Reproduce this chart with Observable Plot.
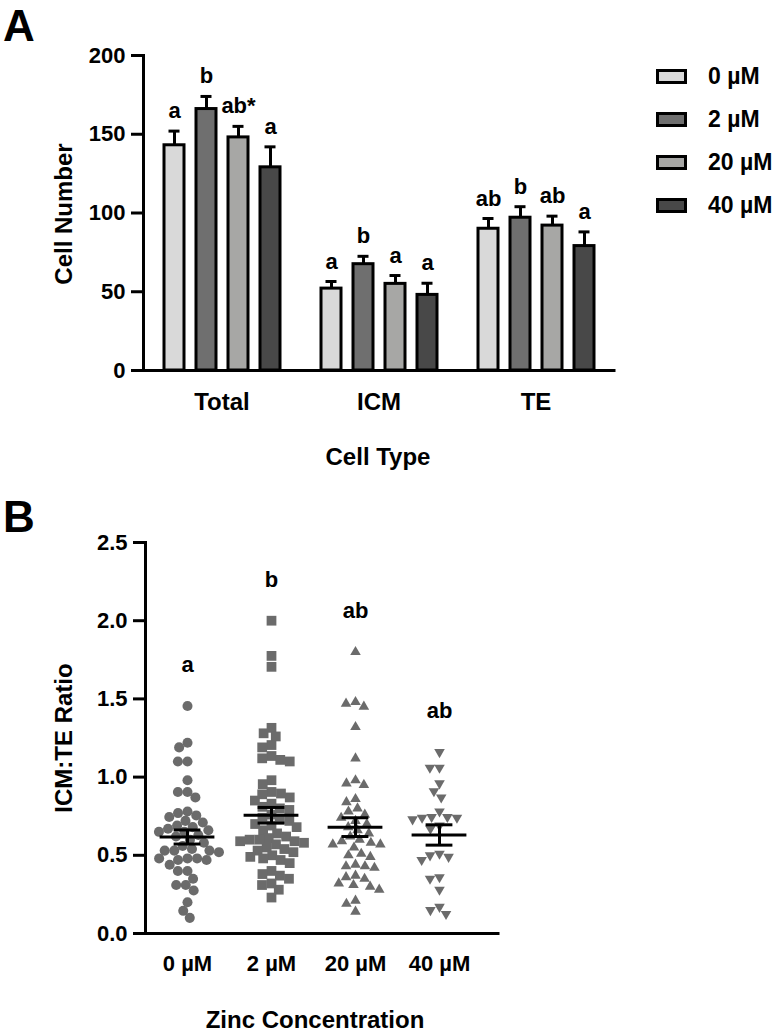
<!DOCTYPE html>
<html>
<head>
<meta charset="utf-8">
<script src="https://cdn.jsdelivr.net/npm/d3@7"></script>
<script src="https://cdn.jsdelivr.net/npm/@observablehq/plot@0.6"></script>
<style>
  body { margin: 0; background: #fff; }
  #wrap { position: relative; width: 780px; height: 1032px; overflow: hidden;
          font-family: "Liberation Sans", Arial, sans-serif; font-weight: bold; color: #000; }
  #plotA { position: absolute; left: 0; top: 0; }
  #plotB { position: absolute; left: 0; top: 470px; }
  .panel { position: absolute; font-size: 44px; line-height: 1; }
  .title { position: absolute; font-size: 24px; line-height: 1; white-space: nowrap; }
  .ytitle { transform: translate(-50%, -50%) rotate(-90deg); }
  .xtitle { transform: translateX(-50%); }
  #legend { position: absolute; left: 656px; top: 55.6px; }
  .row { display: flex; align-items: center; height: 42.7px; }
  .sw { width: 31px; height: 15px; box-sizing: border-box; border: 3.5px solid #000; }
  .lab { margin-left: 21px; font-size: 23px; line-height: 1; }
</style>
</head>
<body>
<div id="wrap">
  <div id="plotA"></div>
  <div id="plotB"></div>
  <div class="panel" style="left:3px;top:4px;">A</div>
  <div class="panel" style="left:3px;top:495px;">B</div>
  <div class="title ytitle" style="left:63.7px;top:214px;">Cell Number</div>
  <div class="title xtitle" style="left:378px;top:444.7px;">Cell Type</div>
  <div class="title ytitle" style="left:63.7px;top:738px;">ICM:TE Ratio</div>
  <div class="title xtitle" style="left:315px;top:1007.7px;">Zinc Concentration</div>
  <div id="legend"></div>
</div>
<script>
// ---------- Panel A data ----------
const cellTypes = ["Total", "ICM", "TE"];
const concentrations = ["0 µM", "2 µM", "20 µM", "40 µM"];
const barColors = ["#d9d9d9", "#6f6f6f", "#a7a7a5", "#484848"];
const totalMean = [143, 166, 148, 129];
const totalSem = [9, 8, 7, 13];
const icmMean = [52, 67.5, 55, 48];
const icmSem = [4.5, 5, 5.3, 7.4];
const teMean = [90, 97, 92, 79];
const teSem = [6.5, 7, 6, 9];
const totalLetters = ["a", "b", "ab*", "a"];
const icmLetters = ["a", "b", "a", "a"];
const teLetters = ["ab", "b", "ab", "a"];
const cellNumberTicks = [0, 50, 100, 150, 200];

// ---------- Panel B data ----------
const ratio0 = [1.455, 1.22, 1.19, 1.10, 1.10, 0.98, 0.905, 0.905, 0.87, 0.78, 0.77, 0.755, 0.745, 0.72, 0.71,
  0.69, 0.68, 0.67, 0.66, 0.65, 0.65, 0.63, 0.62, 0.60, 0.58, 0.56, 0.54, 0.53, 0.53, 0.53, 0.52, 0.48, 0.48,
  0.48, 0.47, 0.47, 0.44, 0.40, 0.40, 0.35, 0.31, 0.31, 0.275, 0.20, 0.145, 0.10];
const ratio2 = [2.00, 1.775, 1.705, 1.315, 1.28, 1.26, 1.205, 1.19, 1.135, 1.12, 1.11, 1.10, 0.98, 0.955, 0.905,
  0.895, 0.89, 0.87, 0.85, 0.83, 0.81, 0.80, 0.79, 0.76, 0.74, 0.73, 0.72, 0.70, 0.69, 0.68, 0.66, 0.64, 0.62,
  0.61, 0.60, 0.60, 0.59, 0.59, 0.58, 0.57, 0.55, 0.54, 0.53, 0.52, 0.50, 0.49, 0.48, 0.47, 0.45, 0.40, 0.38,
  0.37, 0.35, 0.32, 0.31, 0.28, 0.23];
const ratio20 = [1.80, 1.48, 1.47, 1.45, 1.32, 1.12, 0.98, 0.96, 0.95, 0.86, 0.84, 0.80, 0.78, 0.76, 0.74, 0.72,
  0.70, 0.68, 0.66, 0.64, 0.62, 0.60, 0.59, 0.58, 0.57, 0.57, 0.55, 0.51, 0.50, 0.49, 0.44, 0.43, 0.43, 0.42,
  0.37, 0.36, 0.35, 0.32, 0.31, 0.30, 0.28, 0.21, 0.19, 0.14];
const ratio40 = [1.16, 1.06, 1.06, 0.96, 0.91, 0.87, 0.78, 0.745, 0.745, 0.74, 0.74, 0.73, 0.69, 0.67, 0.51, 0.50,
  0.49, 0.47, 0.36, 0.35, 0.28, 0.17, 0.15, 0.125];
const ratioMean = [0.617, 0.756, 0.68, 0.63];
const ratioSem = [0.045, 0.05, 0.06, 0.065];
const ratioLetters = ["a", "b", "ab", "ab"];
const ratioTicks = [0, 0.5, 1, 1.5, 2, 2.5];
const dotColor = "#6b6b6b";

// ---------- tables built from the arrays ----------
const groupsA = [
  [totalMean, totalSem, totalLetters],
  [icmMean, icmSem, icmLetters],
  [teMean, teSem, teLetters]
];
const cellData = cellTypes.flatMap((t, i) => concentrations.map((c, j) => ({
  type: t, conc: c,
  mean: groupsA[i][0][j],
  upper: groupsA[i][0][j] + groupsA[i][1][j],
  letter: groupsA[i][2][j]
})));

const ratioSeries = [ratio0, ratio2, ratio20, ratio40];
const ratioData = concentrations.flatMap((c, i) => ratioSeries[i].map(v => ({conc: c, value: v})));
const ratioSummary = concentrations.map((c, i) => ({
  conc: c, centre: 0, mean: ratioMean[i], lo: ratioMean[i] - ratioSem[i], hi: ratioMean[i] + ratioSem[i],
  max: d3.max(ratioSeries[i]), letter: ratioLetters[i]
}));

// ---------- symbols ----------
const K = 1.17;
const symCircle = {draw(ctx, size) { const r = Math.sqrt(size / Math.PI) * K; ctx.moveTo(r, 0); ctx.arc(0, 0, r, 0, 2 * Math.PI); }};
const symSquare = {draw(ctx, size) { const r = Math.sqrt(size / Math.PI) * K * 0.97; ctx.rect(-r, -r, 2 * r, 2 * r); }};
const symTriUp = {draw(ctx, size) { const r = Math.sqrt(size / Math.PI) * K; const s = 2.1 * r, h = s * Math.sqrt(3) / 2;
  ctx.moveTo(0, -2 * h / 3); ctx.lineTo(s / 2, h / 3); ctx.lineTo(-s / 2, h / 3); ctx.closePath(); }};
const symTriDown = {draw(ctx, size) { const r = Math.sqrt(size / Math.PI) * K; const s = 2.1 * r, h = s * Math.sqrt(3) / 2;
  ctx.moveTo(0, 2 * h / 3); ctx.lineTo(s / 2, -h / 3); ctx.lineTo(-s / 2, -h / 3); ctx.closePath(); }};

const baseStyle = {fontFamily: '"Liberation Sans", Arial, sans-serif', fontWeight: "bold", fontSize: "21px",
  color: "#000", background: "#fff", overflow: "visible"};

// ---------- Panel A ----------
const plotA = Plot.plot({
  width: 640, height: 470,
  marginLeft: 142, marginRight: 25, marginTop: 55, marginBottom: 100,
  style: baseStyle,
  fx: {domain: cellTypes, padding: 0},
  x: {domain: concentrations, paddingInner: 0.38, paddingOuter: 0.6, axis: null},
  y: {domain: [0, 200]},
  color: {domain: concentrations, range: barColors},
  marks: [
    Plot.barY(cellData, {fx: "type", x: "conc", y: "mean", fill: "conc", stroke: "#000", strokeWidth: 3}),
    Plot.ruleX(cellData, {fx: "type", x: "conc", y1: "mean", y2: "upper", stroke: "#000", strokeWidth: 3}),
    Plot.tickY(cellData, {fx: "type", x: "conc", y: "upper", stroke: "#000", strokeWidth: 3, insetLeft: 4.5, insetRight: 4.5}),
    Plot.text(cellData, {fx: "type", x: "conc", y: "upper", text: "letter", lineAnchor: "bottom", dy: -13, fontSize: 22, fontWeight: "bold"}),
    Plot.ruleY([0], {stroke: "#000", strokeWidth: 3, strokeLinecap: "square"}),
    Plot.frame({anchor: "left", stroke: "#000", strokeWidth: 3, strokeLinecap: "square", facetAnchor: "left"}),
    Plot.axisY({ticks: cellNumberTicks, tickSize: 12, tickPadding: 6, strokeWidth: 3, fontSize: 22, label: null}),
    Plot.axisFx({anchor: "bottom", tickSize: 0, tickPadding: 22, fontSize: 24, label: null})
  ]
});
document.getElementById("plotA").appendChild(plotA);

// ---------- Panel B ----------
const plotB = Plot.plot({
  width: 500, height: 562,
  marginLeft: 144, marginRight: 18.7, marginTop: 72, marginBottom: 99,
  style: baseStyle,
  fx: {domain: concentrations, padding: 0},
  x: {domain: [-1, 1], axis: null},
  y: {domain: [0, 2.5]},
  symbol: {domain: concentrations, range: [symCircle, symSquare, symTriUp, symTriDown]},
  marks: [
    Plot.dot(ratioData, Plot.dodgeX("middle", {fx: "conc", y: "value", r: 4.3, padding: 0.6, symbol: "conc", fill: dotColor, stroke: "none"})),
    Plot.tickY(ratioSummary, {fx: "conc", y: "mean", stroke: "#000", strokeWidth: 3, insetLeft: 14.6, insetRight: 14.6}),
    Plot.ruleX(ratioSummary, {fx: "conc", x: "centre", y1: "lo", y2: "hi", stroke: "#000", strokeWidth: 3}),
    Plot.tickY(ratioSummary, {fx: "conc", y: "lo", stroke: "#000", strokeWidth: 3, insetLeft: 28.6, insetRight: 28.6}),
    Plot.tickY(ratioSummary, {fx: "conc", y: "hi", stroke: "#000", strokeWidth: 3, insetLeft: 28.6, insetRight: 28.6}),
    Plot.text(ratioSummary, {fx: "conc", y: "max", text: "letter", lineAnchor: "bottom", dy: -34, fontSize: 22, fontWeight: "bold"}),
    Plot.ruleY([0], {stroke: "#000", strokeWidth: 3, strokeLinecap: "square", insetRight: -17}),
    Plot.frame({anchor: "left", stroke: "#000", strokeWidth: 3, strokeLinecap: "square", facetAnchor: "left"}),
    Plot.axisY({ticks: ratioTicks, tickFormat: d3.format(".1f"), tickSize: 12, tickPadding: 6, strokeWidth: 3, fontSize: 22, label: null}),
    Plot.axisFx({anchor: "bottom", tickSize: 0, tickPadding: 22, fontSize: 22, label: null})
  ]
});
document.getElementById("plotB").appendChild(plotB);

// ---------- Legend ----------
const legend = document.getElementById("legend");
concentrations.forEach((c, i) => {
  const row = document.createElement("div");
  row.className = "row";
  const sw = document.createElement("div");
  sw.className = "sw";
  sw.style.background = barColors[i];
  const lab = document.createElement("div");
  lab.className = "lab";
  lab.textContent = c;
  row.appendChild(sw);
  row.appendChild(lab);
  legend.appendChild(row);
});
</script>
</body>
</html>
